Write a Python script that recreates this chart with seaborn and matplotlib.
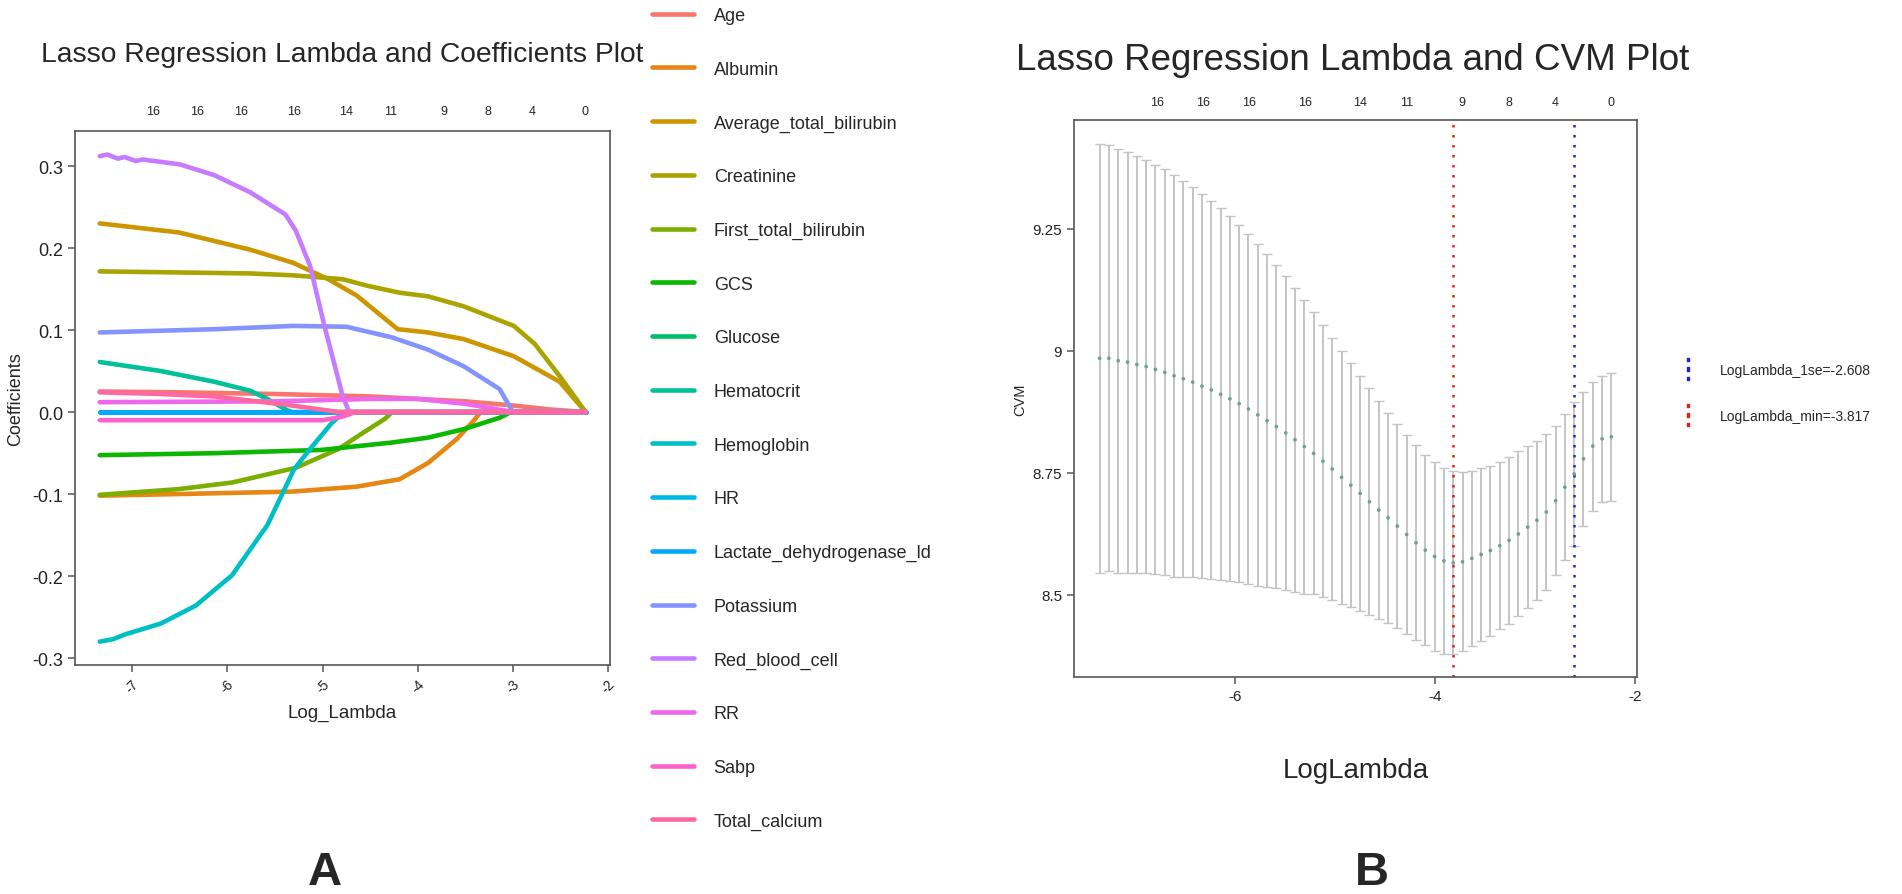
import numpy as np
import pandas as pd
import matplotlib
matplotlib.use('Agg')
import matplotlib.pyplot as plt
import seaborn as sns
from matplotlib.lines import Line2D

# ---- panel A : lasso coefficient paths (log lambda, coefficient) ----
variables = ['Age', 'Albumin', 'Average_total_bilirubin', 'Creatinine', 'First_total_bilirubin',
             'GCS', 'Glucose', 'Hematocrit', 'Hemoglobin', 'HR', 'Lactate_dehydrogenase_ld',
             'Potassium', 'Red_blood_cell', 'RR', 'Sabp', 'Total_calcium']

age_x = [-7.34, -6.5, -5.5, -4.5, -3.5, -3.0, -2.6, -2.236]
age_y = [0.025, 0.024, 0.022, 0.019, 0.013, 0.008, 0.003, 0.0]
albumin_x = [-7.34, -6.5, -5.31, -4.64, -4.19, -3.89, -3.59, -3.40, -3.34, -2.236]
albumin_y = [-0.102, -0.100, -0.097, -0.091, -0.082, -0.062, -0.033, -0.009, 0.0, 0.0]
avg_bili_x = [-7.34, -6.51, -5.76, -5.31, -4.94, -4.64, -4.42, -4.21, -3.89, -3.52, -2.99, -2.51, -2.236]
avg_bili_y = [0.230, 0.219, 0.198, 0.182, 0.162, 0.142, 0.121, 0.101, 0.097, 0.089, 0.068, 0.037, 0.0]
creat_x = [-7.34, -5.76, -5.31, -4.79, -4.53, -4.19, -3.89, -3.52, -2.99, -2.77, -2.51, -2.236]
creat_y = [0.1715, 0.169, 0.1667, 0.162, 0.154, 0.1455, 0.141, 0.129, 0.105, 0.083, 0.044, 0.0]
first_bili_x = [-7.34, -6.51, -5.95, -5.28, -4.83, -4.57, -4.34, -4.27, -2.236]
first_bili_y = [-0.101, -0.094, -0.086, -0.068, -0.045, -0.025, -0.008, 0.0, 0.0]
gcs_x = [-7.34, -6.14, -5.01, -4.27, -3.89, -3.52, -3.14, -3.02, -2.236]
gcs_y = [-0.0526, -0.0502, -0.0462, -0.0372, -0.0312, -0.021, -0.007, 0.0, 0.0]
glucose_x = [-7.34, -2.236]
glucose_y = [0.0, 0.0]
hct_x = [-7.34, -6.70, -6.14, -5.76, -5.58, -5.37, -5.32, -2.236]
hct_y = [0.061, 0.050, 0.037, 0.026, 0.016, 0.002, 0.0, 0.0]
hgb_x = [-7.34, -7.2, -7.07, -6.70, -6.33, -5.95, -5.58, -5.30, -5.13, -4.90, -4.77, -2.236]
hgb_y = [-0.280, -0.277, -0.271, -0.258, -0.236, -0.199, -0.138, -0.070, -0.045, -0.013, 0.0, 0.0]
hr_x = [-7.34, -2.236]
hr_y = [0.0, 0.0]
ldh_x = [-7.34, -4.8, -2.236]
ldh_y = [0.0, 0.0, 0.0]
potassium_x = [-7.34, -6.14, -5.31, -4.75, -4.27, -3.89, -3.52, -3.14, -3.0, -2.236]
potassium_y = [0.097, 0.101, 0.105, 0.104, 0.091, 0.076, 0.056, 0.028, 0.0, 0.0]
rbc_x = [-7.34, -7.26, -7.15, -7.08, -6.96, -6.89, -6.5, -6.14, -5.76, -5.39, -5.28, -5.13,
         -4.98, -4.87, -4.79, -4.72, -2.236]
rbc_y = [0.312, 0.314, 0.309, 0.311, 0.306, 0.308, 0.302, 0.289, 0.268, 0.241, 0.221, 0.178,
         0.105, 0.056, 0.020, 0.0, 0.0]
rr_x = [-7.34, -5.5, -4.5, -4.0, -3.5, -3.0, -2.236]
rr_y = [0.012, 0.013, 0.016, 0.016, 0.010, 0.0, 0.0]
sabp_x = [-7.34, -5.0, -4.8, -4.65, -2.236]
sabp_y = [-0.010, -0.010, -0.006, 0.0, 0.0]
tca_x = [-7.34, -6.7, -6.14, -5.39, -4.83, -2.236]
tca_y = [0.024, 0.022, 0.019, 0.009, 0.0, 0.0]

# number of non-zero coefficients (top axis)
df_x = [-6.78, -6.32, -5.86, -5.30, -4.75, -4.28, -3.73, -3.26, -2.80, -2.24]
df_labels = ['16', '16', '16', '16', '14', '11', '9', '8', '4', '0']

# ---- panel B : cross-validation curve ----
log_lambda = [-7.351, -7.258, -7.165, -7.072, -6.979, -6.886, -6.793, -6.700, -6.607, -6.514,
              -6.421, -6.328, -6.235, -6.142, -6.049, -5.956, -5.863, -5.770, -5.677, -5.584,
              -5.491, -5.398, -5.305, -5.212, -5.119, -5.026, -4.933, -4.840, -4.747, -4.654,
              -4.561, -4.468, -4.375, -4.282, -4.189, -4.096, -4.003, -3.910, -3.817, -3.724,
              -3.631, -3.538, -3.445, -3.352, -3.259, -3.166, -3.073, -2.980, -2.887, -2.794,
              -2.701, -2.608, -2.515, -2.422, -2.329, -2.236]
cvm = [8.985, 8.985, 8.980, 8.977, 8.972, 8.968, 8.962, 8.956, 8.949, 8.943,
       8.936, 8.928, 8.920, 8.911, 8.902, 8.892, 8.881, 8.869, 8.857, 8.845,
       8.832, 8.818, 8.804, 8.790, 8.774, 8.758, 8.741, 8.725, 8.708, 8.691,
       8.674, 8.658, 8.641, 8.624, 8.607, 8.592, 8.579, 8.570, 8.566, 8.568,
       8.575, 8.583, 8.591, 8.601, 8.612, 8.625, 8.639, 8.653, 8.670, 8.693,
       8.721, 8.748, 8.779, 8.805, 8.820, 8.824]
cvup = [9.424, 9.421, 9.414, 9.408, 9.399, 9.391, 9.381, 9.372, 9.361, 9.349,
        9.336, 9.322, 9.308, 9.292, 9.276, 9.258, 9.240, 9.219, 9.198, 9.176,
        9.153, 9.129, 9.105, 9.079, 9.053, 9.027, 9.000, 8.975, 8.949, 8.923,
        8.897, 8.873, 8.850, 8.828, 8.807, 8.787, 8.772, 8.760, 8.753, 8.751,
        8.755, 8.760, 8.765, 8.772, 8.783, 8.794, 8.805, 8.816, 8.829, 8.846,
        8.870, 8.896, 8.916, 8.937, 8.949, 8.955]
cvlo = [8.546, 8.549, 8.546, 8.546, 8.545, 8.545, 8.543, 8.540, 8.537, 8.537,
        8.536, 8.534, 8.532, 8.530, 8.528, 8.526, 8.522, 8.519, 8.516, 8.514,
        8.511, 8.507, 8.503, 8.501, 8.495, 8.489, 8.482, 8.475, 8.467, 8.459,
        8.451, 8.443, 8.432, 8.420, 8.407, 8.397, 8.386, 8.380, 8.379, 8.385,
        8.395, 8.406, 8.417, 8.430, 8.441, 8.456, 8.473, 8.490, 8.511, 8.540,
        8.572, 8.600, 8.642, 8.673, 8.691, 8.693]
lambda_min = -3.817
lambda_1se = -2.608


def hcl_hex(h, c=100.0, l=65.0):
    # ggplot2 hue_pal colour (polar LUV -> sRGB)
    xn, yn, zn = 95.047, 100.0, 108.883
    un = 4 * xn / (xn + 15 * yn + 3 * zn)
    vn = 9 * yn / (xn + 15 * yn + 3 * zn)
    u = c * np.cos(np.radians(h))
    v = c * np.sin(np.radians(h))
    Y = yn * ((l + 16) / 116) ** 3
    up = u / (13 * l) + un
    vp = v / (13 * l) + vn
    X = 9 * Y * up / (4 * vp)
    Z = Y * (12 - 3 * up - 20 * vp) / (4 * vp)
    X, Y, Z = X / 100, Y / 100, Z / 100
    rgb = [3.240479 * X - 1.537150 * Y - 0.498535 * Z,
           -0.969256 * X + 1.875992 * Y + 0.041556 * Z,
           0.055648 * X - 0.204043 * Y + 1.057311 * Z]
    out = []
    for ch in rgb:
        ch = 12.92 * ch if ch <= 0.0031308 else 1.055 * ch ** (1 / 2.4) - 0.055
        out.append(min(max(ch, 0), 1))
    return matplotlib.colors.to_hex(out)


hue_colors = [hcl_hex(15 + 360 / 16 * i) for i in range(16)]
palette = dict(zip(variables, hue_colors))

paths = [age_x, age_y, albumin_x, albumin_y, avg_bili_x, avg_bili_y, creat_x, creat_y,
         first_bili_x, first_bili_y, gcs_x, gcs_y, glucose_x, glucose_y, hct_x, hct_y,
         hgb_x, hgb_y, hr_x, hr_y, ldh_x, ldh_y, potassium_x, potassium_y, rbc_x, rbc_y,
         rr_x, rr_y, sabp_x, sabp_y, tca_x, tca_y]
coef_df = pd.concat([pd.DataFrame({'log_lambda': paths[2 * i], 'coef': paths[2 * i + 1],
                                   'variable': name}) for i, name in enumerate(variables)])

cv_df = pd.DataFrame({'log_lambda': log_lambda, 'cvm': cvm, 'cvup': cvup, 'cvlo': cvlo})

sns.set_theme(style='white')
plt.rcParams['font.family'] = ['Liberation Sans', 'DejaVu Sans']

W, H = 1902, 895
fig = plt.figure(figsize=(W / 100, H / 100), dpi=100)


def box(l, t, r, b):
    return [l / W, 1 - b / H, (r - l) / W, (b - t) / H]


ax1 = fig.add_axes(box(75, 132, 610, 666))
ax2 = fig.add_axes(box(1074, 121, 1637, 678))

axis_col = '#555555'
for ax in (ax1, ax2):
    for s in ax.spines.values():
        s.set_visible(True)
        s.set_color(axis_col)
        s.set_linewidth(1.2)
    ax.tick_params(direction='out', length=5, width=1.1, color=axis_col,
                   left=True, bottom=True, labelcolor='#222222')
    ax.grid(False)

# ---- panel A ----
sns.lineplot(data=coef_df, x='log_lambda', y='coef', hue='variable', hue_order=variables,
             palette=palette, estimator=None, linewidth=3.3, ax=ax1)
ax1.set_xlim(-7.6, -1.98)
ax1.set_ylim(-0.3085, 0.3427)
ax1.set_xticks([-7, -6, -5, -4, -3, -2])
ax1.set_xticklabels(['-7', '-6', '-5', '-4', '-3', '-2'], rotation=45, fontsize=10)
ax1.set_yticks([-0.3, -0.2, -0.1, 0.0, 0.1, 0.2, 0.3])
ax1.set_yticklabels(['-0.3', '-0.2', '-0.1', '0.0', '0.1', '0.2', '0.3'], fontsize=13)
ax1.set_xlabel('Log_Lambda', fontsize=13.5, labelpad=6)
ax1.set_ylabel('Coefficients', fontsize=13, labelpad=6)

top1 = ax1.secondary_xaxis('top')
top1.set_xticks(df_x, labels=df_labels)
top1.tick_params(length=0, labelsize=9, pad=10)
top1.spines['top'].set_visible(False)

sns.move_legend(ax1, 'upper left', bbox_to_anchor=(1.078, 1.232), frameon=False, title=None,
                fontsize=13, handlelength=2.33, handletextpad=1.1, labelspacing=2.03,
                borderaxespad=0, borderpad=0)

fig.text(41 / W, 1 - 55 / H, 'Lasso Regression Lambda and Coefficients Plot',
         fontsize=20.3, ha='left', va='center')

# ---- panel B ----
ax2.errorbar(cv_df['log_lambda'], cv_df['cvm'],
             yerr=[cv_df['cvm'] - cv_df['cvlo'], cv_df['cvup'] - cv_df['cvm']],
             fmt='none', ecolor='#c4c4c4', elinewidth=1.4, capsize=3.5, capthick=1.0)
sns.scatterplot(data=cv_df, x='log_lambda', y='cvm', color='#6d9f92', s=7,
                edgecolor='none', ax=ax2, zorder=3)
ax2.axvline(lambda_min, color='#e0201b', ls=(0, (1, 3)), lw=1.8)
ax2.axvline(lambda_1se, color='#2020e0', ls=(0, (1, 3)), lw=1.8)
ax2.set_xlim(-7.607, -1.98)
ax2.set_ylim(8.332, 9.473)
ax2.set_xticks([-6, -4, -2])
ax2.set_xticklabels(['-6', '-4', '-2'], fontsize=11)
ax2.set_yticks([8.5, 8.75, 9, 9.25])
ax2.set_yticklabels(['8.5', '8.75', '9', '9.25'], fontsize=11)
ax2.set_xlabel('LogLambda', fontsize=20, labelpad=39)
ax2.set_ylabel('CVM', fontsize=10.5, labelpad=4)

top2 = ax2.secondary_xaxis('top')
top2.set_xticks(df_x, labels=df_labels)
top2.tick_params(length=0, labelsize=9, pad=8.5)
top2.spines['top'].set_visible(False)

vl_handles = [Line2D([], [], ls='none', marker=r'$\vdots$', markersize=16, color='#2020e0'),
              Line2D([], [], ls='none', marker=r'$\vdots$', markersize=16, color='#e0201b')]
fig.legend(vl_handles, ['LogLambda_1se=%.3f' % lambda_1se, 'LogLambda_min=%.3f' % lambda_min],
           loc='center left', bbox_to_anchor=(1680 / W, 1 - 394 / H), frameon=False,
           fontsize=10, handlelength=1.2, handletextpad=1.7, labelspacing=2.3,
           borderpad=0, borderaxespad=0)

fig.text(1016 / W, 1 - 60 / H, 'Lasso Regression Lambda and CVM Plot',
         fontsize=26.5, ha='left', va='center')

fig.text(325 / W, 1 - 873 / H, 'A', fontsize=34, fontweight='bold', ha='center', va='center')
fig.text(1372 / W, 1 - 873 / H, 'B', fontsize=34, fontweight='bold', ha='center', va='center')

fig.savefig('out.png', dpi=100)
